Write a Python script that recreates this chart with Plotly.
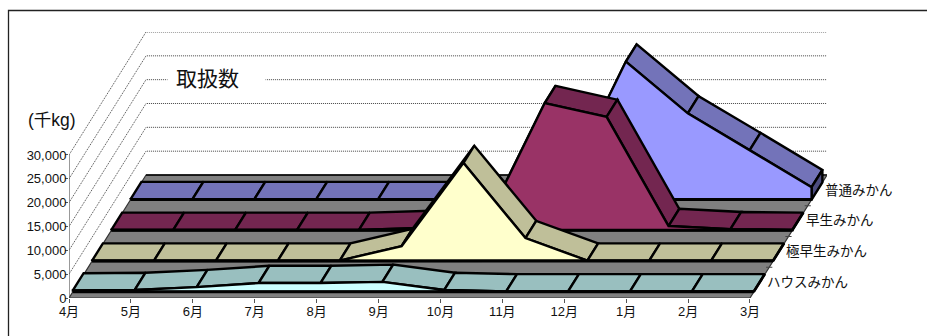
import plotly.graph_objects as go

# Monthly handling volume (thousand kg) per mikan class
months = ["4月", "5月", "6月", "7月", "8月", "9月", "10月", "11月", "12月", "1月", "2月", "3月"]
house = [300, 400, 1000, 1850, 1850, 2100, 400, 100, 100, 100, 100, 100]
kyoku_wase = [100, 100, 100, 100, 100, 3150, 20600, 4830, 100, 100, 100, 100]
wase = [100, 100, 100, 100, 100, 500, 300, 26700, 23800, 900, 250, 100]
futsu = [100, 100, 100, 100, 100, 100, 100, 2400, 28960, 18100, 10400, 2600]
series_names = ["ハウスみかん", "極早生みかん", "早生みかん", "普通みかん"]
series_values = [house, kyoku_wase, wase, futsu]
face_colors = ["#CCFFFF", "#FFFFCC", "#993366", "#9999FF"]
top_colors = ["#99BFBF", "#BFBF99", "#732650", "#7373B9"]
end_colors = ["#668080", "#808066", "#4D1A33", "#4D4D80"]
value_ticks = [0, 5000, 10000, 15000, 20000, 25000, 30000]

# Oblique projection: how far one full unit of depth moves a point on the axes
DEPTH_X = 1.244      # in months
DEPTH_Y = 25800.0    # in thousand kg
SLICE_START = 0.05   # depth of the first ribbon's front edge
SLICE_STEP = 0.25    # spacing between ribbons
SLICE_WIDTH = 0.14   # ribbon thickness
EDGE = "#000000"


def project(month, value, depth):
    return month + depth * DEPTH_X, value + depth * DEPTH_Y


fig = go.Figure()


def add_path(points, fill=None, color=EDGE, width=2.4, dash=None):
    xs, ys = zip(*points)
    fig.add_trace(go.Scatter(
        x=list(xs), y=list(ys), mode="lines",
        fill="toself" if fill else None,
        fillcolor=fill,
        line=dict(color=color, width=width, dash=dash),
        hoverinfo="skip", showlegend=False, cliponaxis=False,
    ))


# Back wall and side wall gridlines
for v in value_ticks[1:]:
    add_path([project(0, v, 0), project(0, v, 1), project(11, v, 1)],
             color="#444444", width=1, dash="1px,1px")

# Floor
add_path([project(0, 0, 0), project(11, 0, 0), project(11, 0, 1), project(0, 0, 1), project(0, 0, 0)],
         fill="#808080", color="#333333", width=1.2)
add_path([project(0, 0, 1), project(11, 0, 1)], width=1.6)
for d in [0.25, 0.5, 0.75, 1.0]:
    x0, y0 = project(11, 0, d)
    add_path([(x0 - 0.05, y0), (x0 + 0.05, y0)], color="#444444", width=1)

# Value axis line
add_path([(0, 0), (0, 30000)], color="#555555", width=1.2)

# Ribbons painted from the back of the chart to the front
for i in reversed(range(len(series_values))):
    values = series_values[i]
    front = SLICE_START + i * SLICE_STEP
    back = front + SLICE_WIDTH
    # sloped top surface, one panel per month
    for m in range(len(months) - 1):
        add_path([project(m, values[m], front), project(m + 1, values[m + 1], front),
                  project(m + 1, values[m + 1], back), project(m, values[m], back),
                  project(m, values[m], front)], fill=top_colors[i])
    # right-hand end cap
    last = len(months) - 1
    add_path([project(last, 0, front), project(last, values[last], front),
              project(last, values[last], back), project(last, 0, back),
              project(last, 0, front)], fill=end_colors[i])
    # front silhouette
    outline = [project(0, 0, front)]
    outline += [project(m, values[m], front) for m in range(len(months))]
    outline += [project(last, 0, front), project(0, 0, front)]
    add_path(outline, fill=face_colors[i])
    add_path([project(0, 0, front), project(last, 0, front)], width=3)

annotations = []
for i, name in enumerate(series_names):
    x, y = project(11, 0, SLICE_START + i * SLICE_STEP + SLICE_WIDTH / 2)
    annotations.append(dict(x=x, y=y, xref="x", yref="y", text=name, showarrow=False,
                            xanchor="left", yanchor="middle", xshift=6, yshift=1,
                            font=dict(size=13.5, color="#111111")))

# White plate behind the chart title interrupts the gridline running through it
annotations.append(dict(x=216.5 / 927, y=1 - 80 / 336, xref="paper", yref="paper",
                        text=" ", showarrow=False, width=97, height=26,
                        xanchor="center", yanchor="middle", bgcolor="#FFFFFF", borderpad=0,
                        font=dict(size=20)))
annotations.append(dict(x=207 / 927, y=1 - 78 / 336, xref="paper", yref="paper",
                        text="取扱数", showarrow=False,
                        xanchor="center", yanchor="middle",
                        font=dict(size=21, color="#111111")))
annotations.append(dict(x=51.5 / 927, y=1 - 120 / 336, xref="paper", yref="paper",
                        text="(千kg)", showarrow=False,
                        xanchor="center", yanchor="middle",
                        font=dict(size=17.5, color="#111111")))

font_stack = "Liberation Sans, Noto Sans CJK JP, sans-serif"
fig.update_layout(
    width=927, height=336, autosize=False,
    margin=dict(l=0, r=0, t=0, b=0),
    paper_bgcolor="#FFFFFF", plot_bgcolor="rgba(0,0,0,0)",
    font=dict(family=font_stack, color="#111111"),
    showlegend=False,
    annotations=annotations,
    shapes=[dict(type="rect", xref="paper", yref="paper",
                 x0=8.5 / 927, x1=1.02, y0=-0.1, y1=1 - 10.5 / 336,
                 line=dict(color="#222222", width=1.3), fillcolor="rgba(0,0,0,0)", layer="below")],
    xaxis=dict(domain=[69 / 927, 827 / 927], range=[0, 11 + DEPTH_X], automargin=False,
               tickvals=list(range(len(months))), ticktext=months,
               ticks="outside", ticklen=4, tickcolor="#555555", tickwidth=1,
               ticklabelstandoff=-3,
               showgrid=False, zeroline=False, showline=False,
               tickfont=dict(size=13, color="#111111")),
    yaxis=dict(domain=[1 - 298 / 336, 1 - 32 / 336], range=[0, 30000 + DEPTH_Y], automargin=False,
               tickvals=value_ticks, tickformat=",",
               ticks="outside", ticklen=3, tickcolor="#555555", tickwidth=1,
               ticklabelstandoff=-4,
               showgrid=False, zeroline=False, showline=False,
               tickfont=dict(size=13, color="#111111")),
)

fig.write_html("out.html")
